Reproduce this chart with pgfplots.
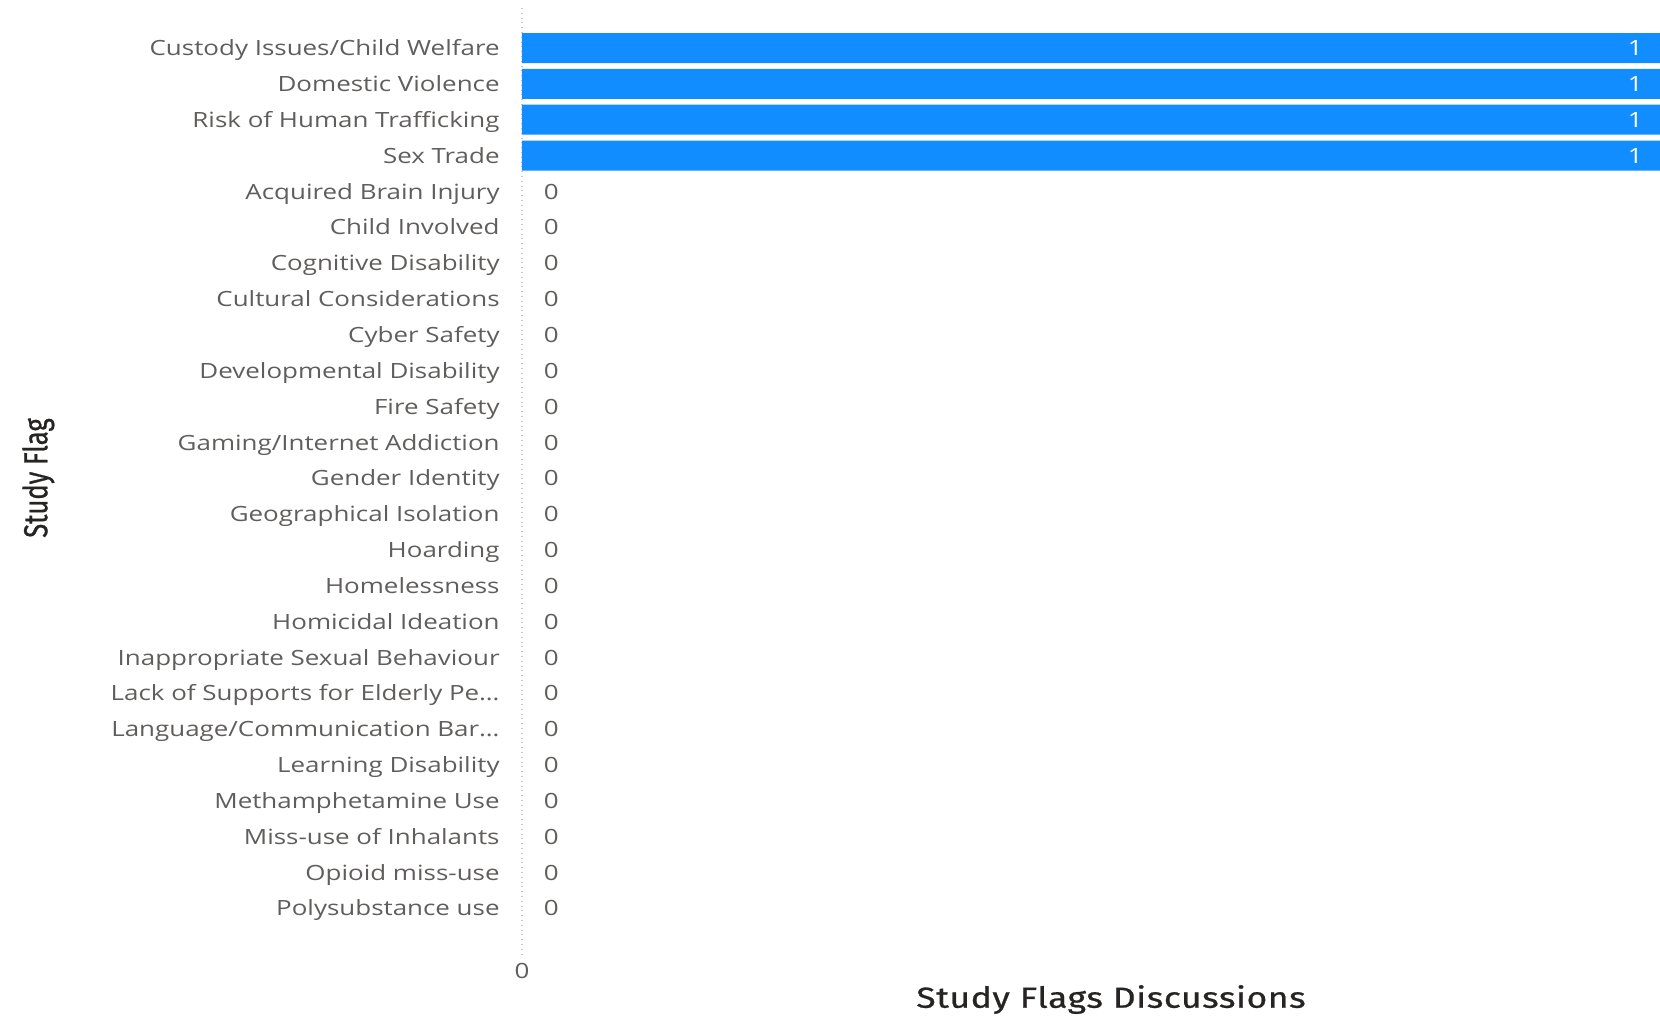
\documentclass[border=0pt]{standalone}
\usepackage{fontspec}
\setmainfont{Open Sans}
\newfontfamily\lblfont{Open Sans}[FakeStretch=1.235]
\newfontfamily\titlefont{Fira Sans}[FakeStretch=1.22, LetterSpace=2, FakeBold=0.8]
\newfontfamily\ytitlefont{Fira Sans}[FakeBold=0.8]
\usepackage{pgfplots}
\pgfplotsset{compat=1.18}
\definecolor{barblue}{HTML}{118DFF}
\definecolor{lblgray}{HTML}{605E5C}
\definecolor{ttlgray}{HTML}{252423}
\definecolor{gridgray}{HTML}{C8C6C4}
\begin{document}
\begin{tikzpicture}[x=1pt,y=1pt]
\useasboundingbox (0,0) rectangle (830,-508.5);
\begin{axis}[
  at={(261pt,-4pt)}, anchor=north west,
  width=569pt, height=473.5pt, scale only axis,
  xmin=0, xmax=1, ymin=-1.116, ymax=25.31, y dir=reverse,
  axis line style={draw=none}, major tick length=0pt,
  /pgf/number format/assume math mode=true,
  xtick={0}, xmajorgrids, grid style={gridgray, dotted, line width=0.8pt},
  ytick={0,...,24},
  yticklabels={Custody Issues/Child Welfare, Domestic Violence, Risk of Human Trafficking, Sex Trade, Acquired Brain Injury, Child Involved, Cognitive Disability, Cultural Considerations, Cyber Safety, Developmental Disability, Fire Safety, Gaming/Internet Addiction, Gender Identity, Geographical Isolation, Hoarding, Homelessness, Homicidal Ideation, Inappropriate Sexual Behaviour, Lack of Supports for Elderly Pe…, Language/Communication Bar…, Learning Disability, Methamphetamine Use, Miss-use of Inhalants, Opioid miss-use, Polysubstance use},
  yticklabel style={font=\lblfont\fontsize{10.5}{12}\selectfont, text=lblgray, inner sep=0pt, anchor=base east, xshift=-11pt, yshift=-3.9pt},
  xticklabel style={font=\lblfont\fontsize{10.5}{12}\selectfont, text=lblgray, inner sep=0pt, anchor=north, yshift=-4pt},
  xlabel={Study Flags Discussions},
  xlabel style={font=\titlefont\fontsize{14.5}{16}\selectfont, text=ttlgray, inner sep=0pt, at={(axis description cs:0.5176,-0.047)}, anchor=center},
  ylabel={\scalebox{1}[1.3]{Study Flag}},
  ylabel style={font=\ytitlefont\fontsize{12.8}{14}\selectfont, text=ttlgray, at={(axis description cs:-0.425,0.5037)}, anchor=center, rotate=0},
  clip=false,
]
\addplot[xbar, bar width=15pt, bar shift=0pt, fill=barblue, draw=none, point meta=x,
  nodes near coords,
  every node near coord/.append style={font=\lblfont\fontsize{10.5}{12}\selectfont, text=white, anchor=base east, inner sep=0pt, xshift=-8.5pt, yshift=-3.9pt}]
  coordinates {(1,0) (1,1) (1,2) (1,3)};
\addplot[xbar, bar width=15pt, bar shift=0pt, fill=none, draw=none, point meta=x,
  nodes near coords,
  every node near coord/.append style={font=\lblfont\fontsize{10.5}{12}\selectfont, text=lblgray, anchor=base west, inner sep=0pt, xshift=10.8pt, yshift=-3.9pt}]
  coordinates {(0,4) (0,5) (0,6) (0,7) (0,8) (0,9) (0,10) (0,11) (0,12) (0,13) (0,14) (0,15) (0,16) (0,17) (0,18) (0,19) (0,20) (0,21) (0,22) (0,23) (0,24)};
\end{axis}
\end{tikzpicture}
\end{document}
